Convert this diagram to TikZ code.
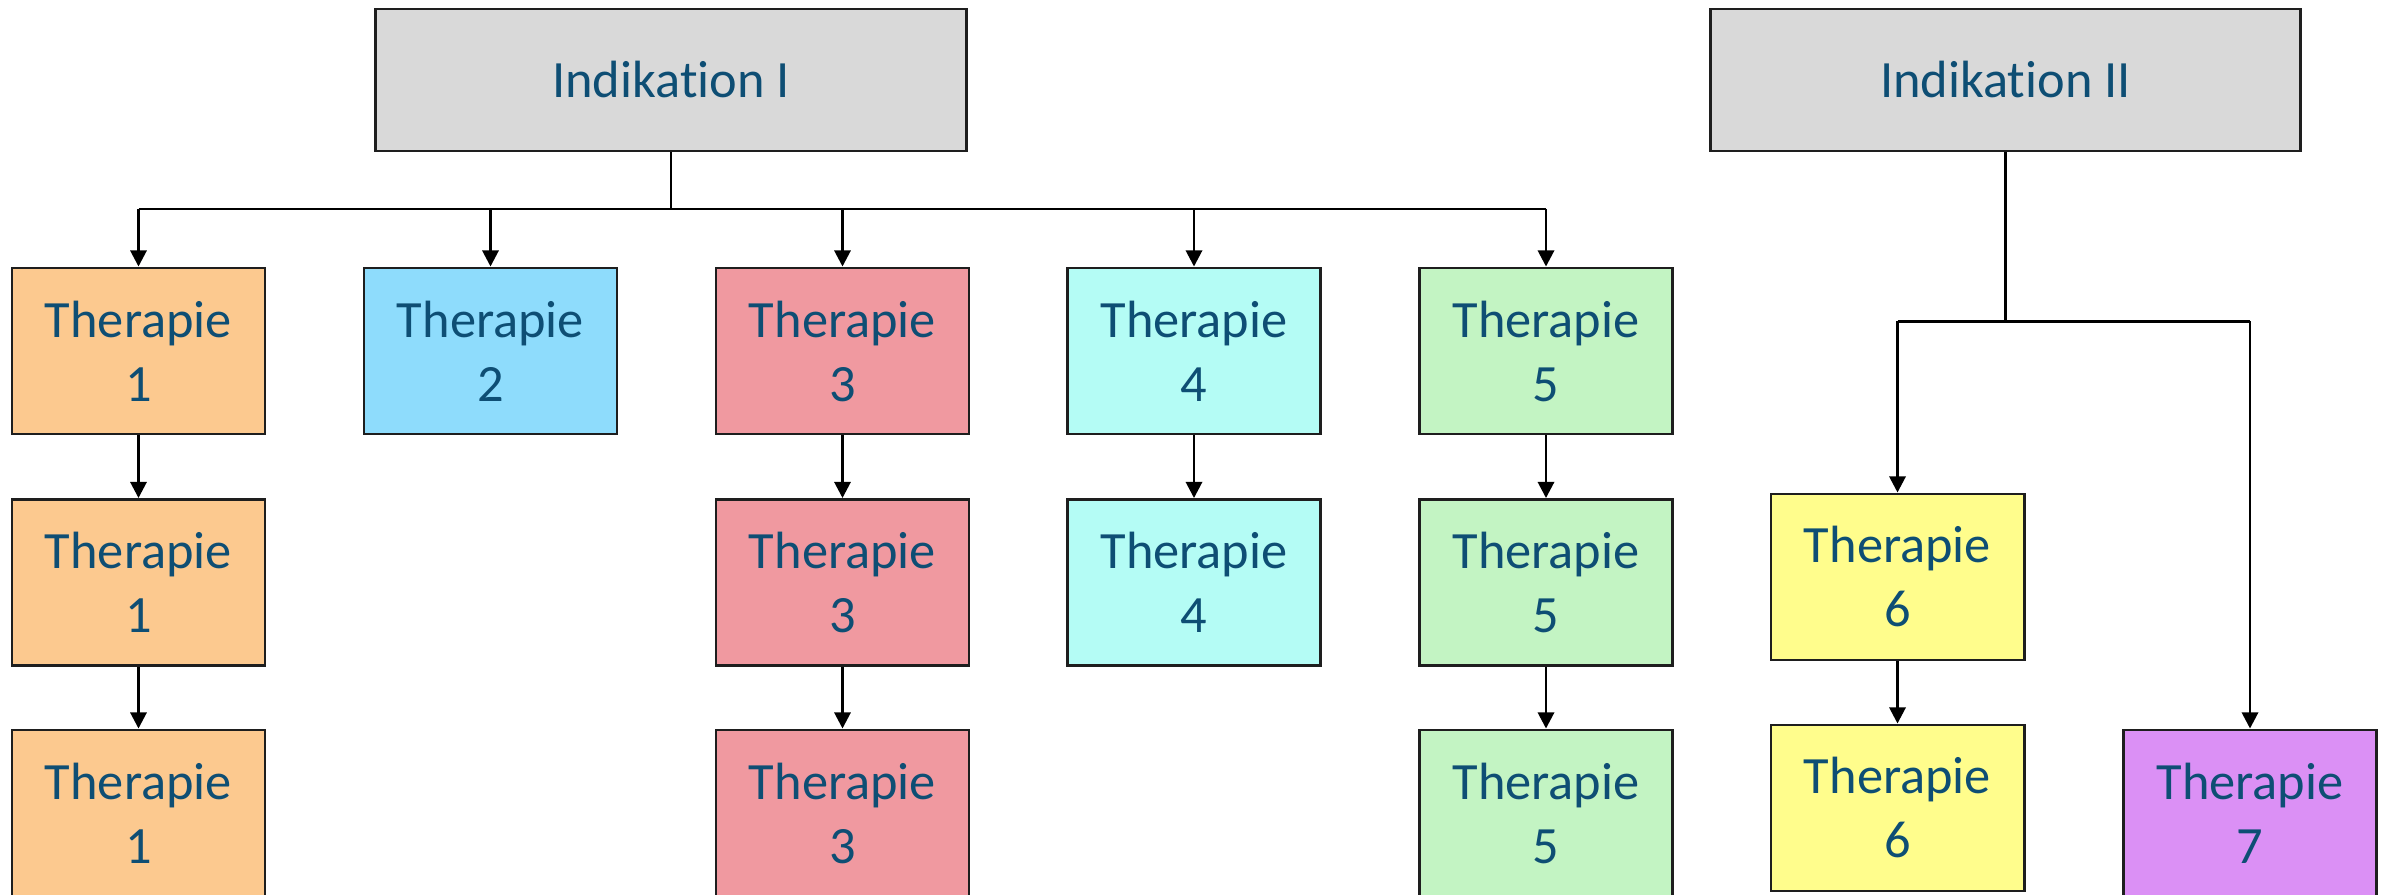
\documentclass[tikz,border=0pt]{standalone}
\usepackage{fontspec}
\setmainfont{Carlito}[Ligatures=NoCommon]
\usetikzlibrary{arrows.meta}

\definecolor{txtblue}{RGB}{14,78,116}
\definecolor{indgray}{RGB}{217,217,217}
\definecolor{cOrange}{RGB}{252,201,143}
\definecolor{cBlue}{RGB}{142,220,252}
\definecolor{cRed}{RGB}{240,153,160}
\definecolor{cCyan}{RGB}{180,252,245}
\definecolor{cGreen}{RGB}{195,244,195}
\definecolor{cYellow}{RGB}{255,253,140}
\definecolor{cPurple}{RGB}{219,144,245}
\definecolor{edgeblk}{RGB}{30,30,30}

\tikzset{
  boxbase/.style={draw=edgeblk, line width=0.8pt, rectangle, align=center,
    text=txtblue, font=\fontsize{14.9}{18.2}\selectfont, inner sep=0pt},
  indbox/.style={boxbase, fill=indgray, minimum width=5.9cm, minimum height=1.42cm},
  therabox/.style={boxbase, minimum width=2.53cm, minimum height=1.66cm},
  link/.style={draw=black, line width=0.8pt},
  arr/.style={link, -{Triangle[length=4.6pt,width=4.6pt]}}
}

\begin{document}
\begin{tikzpicture}[x=0.01cm,y=-0.01cm]
  \useasboundingbox (0,0) rectangle (2387,895);
  \clip (0,0) rectangle (2387,895);

  % indication headers
  \node[indbox] (indI)  at (671,80)  {Indikation I};
  \node[indbox] (indII) at (2005.5,80) {Indikation II};

  % column of therapies under indication I
  \node[therabox, fill=cOrange] (t1a) at (138.5,351) {Therapie\\1};
  \node[therabox, fill=cOrange] (t1b) at (138.5,582.5) {Therapie\\1};
  \node[therabox, fill=cOrange] (t1c) at (138.5,813) {Therapie\\1};

  \node[therabox, fill=cBlue] (t2a) at (490.5,351) {Therapie\\2};

  \node[therabox, fill=cRed] (t3a) at (842.5,351) {Therapie\\3};
  \node[therabox, fill=cRed] (t3b) at (842.5,582.5) {Therapie\\3};
  \node[therabox, fill=cRed] (t3c) at (842.5,813) {Therapie\\3};

  \node[therabox, fill=cCyan] (t4a) at (1194,351) {Therapie\\4};
  \node[therabox, fill=cCyan] (t4b) at (1194,582.5) {Therapie\\4};

  \node[therabox, fill=cGreen] (t5a) at (1546,351) {Therapie\\5};
  \node[therabox, fill=cGreen] (t5b) at (1546,582.5) {Therapie\\5};
  \node[therabox, fill=cGreen] (t5c) at (1546,813) {Therapie\\5};

  % therapies under indication II
  \node[therabox, fill=cYellow] (t6a) at (1897.5,577) {Therapie\\6};
  \node[therabox, fill=cYellow] (t6b) at (1897.5,808) {Therapie\\6};
  \node[therabox, fill=cPurple] (t7a) at (2250,813) {Therapie\\7};

  % bus under indication I
  \coordinate (busI) at (671,209);
  \draw[link] (indI.south) -- (busI);
  \draw[link] (t1a.north |- busI) -- (t5a.north |- busI);
  \foreach \t in {t1a,t2a,t3a,t4a,t5a}
    \draw[arr] (\t.north |- busI) -- (\t.north);

  % chains within the columns
  \draw[arr] (t1a) -- (t1b);
  \draw[arr] (t1b) -- (t1c);
  \draw[arr] (t3a) -- (t3b);
  \draw[arr] (t3b) -- (t3c);
  \draw[arr] (t4a) -- (t4b);
  \draw[arr] (t5a) -- (t5b);
  \draw[arr] (t5b) -- (t5c);
  \draw[arr] (t6a) -- (t6b);

  % branch under indication II
  \coordinate (busII) at (2005.5,321.5);
  \draw[link] (indII.south) -- (busII);
  \draw[link] (t6a.north |- busII) -- (t7a.north |- busII);
  \draw[arr] (t6a.north |- busII) -- (t6a.north);
  \draw[arr] (t7a.north |- busII) -- (t7a.north);
\end{tikzpicture}
\end{document}
